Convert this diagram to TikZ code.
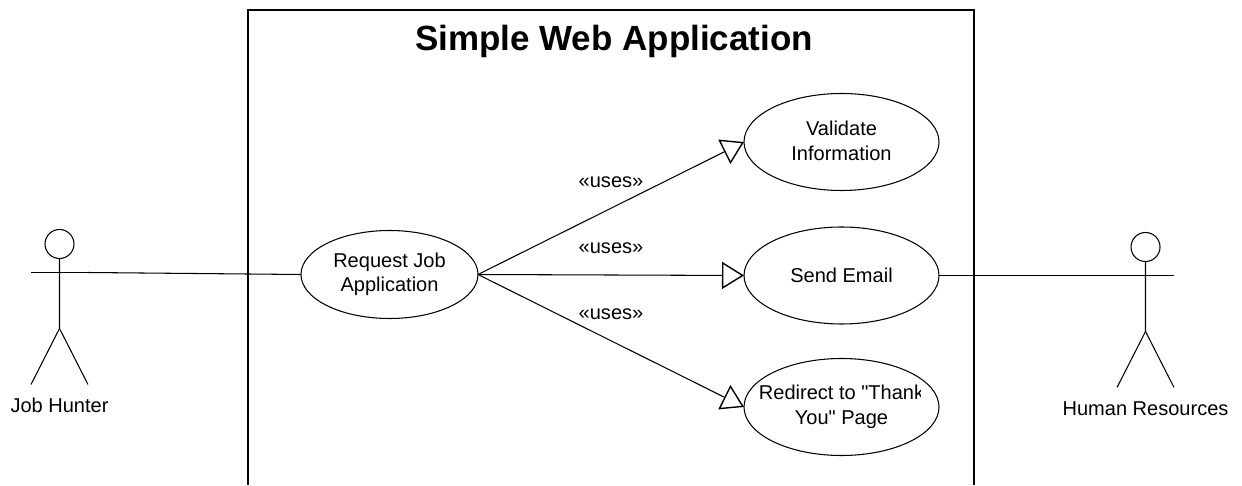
\documentclass[tikz,border=0pt]{standalone}
\usepackage{fontspec}
\setmainfont{Liberation Sans}[Ligatures=TeXOff]
\usetikzlibrary{arrows.meta, calc, shapes.geometric}
\tikzset{
	usecase/.style={ellipse, draw, inner sep=0pt, outer sep=0pt},
	smalltext/.style={font=\fontsize{5.7}{7}\selectfont, align=center, inner sep=0pt},
	uses/.style={-{Triangle[open, length=2.2mm, width=2.7mm, line width=0.4pt]}, shorten >=0pt}
}
\newcommand{\ActorFigure}[3]{
	\def\lname{#1}
	\def\lpin{#2}
	\node[circle, draw, inner sep=0pt, outer sep=0pt, minimum size=2.9mm] (\lname head) at ($ (\lpin)+(0,0.285) $) {};
	\coordinate (\lname left) at ($ (\lpin)+(-0.285,0) $);
	\coordinate (\lname right) at ($ (\lpin)+(0.285,0) $);
	\coordinate (\lname hip) at ($ (\lpin)+(0,-0.56) $);
	\coordinate (\lname lfoot) at ($ (\lpin)+(-0.285,-1.12) $);
	\coordinate (\lname rfoot) at ($ (\lpin)+(0.285,-1.12) $);
	\draw (\lname head) -- (\lname hip) -- (\lname lfoot);
	\draw (\lname hip) -- (\lname rfoot);
	\draw (\lname left) -- (\lname right);
	\node[smalltext] (\lname label) at ($ (\lpin)+(0,-1.33) $) {#3};
}

\begin{document}
\begin{tikzpicture}[line width=0.3pt]

	\useasboundingbox (0,0) rectangle (12.42,4.85);

	% system frame, open at the bottom
	\coordinate (FrameA) at (2.48,0);
	\coordinate (FrameB) at (2.48,4.75);
	\coordinate (FrameC) at (9.74,4.75);
	\coordinate (FrameD) at (9.74,0);
	\draw[line width=0.45pt] (FrameA) -- (FrameB) -- (FrameC) -- (FrameD);
	\node[font=\fontsize{9.95}{11}\selectfont\bfseries, inner sep=0pt] (title) at (6.14,4.44) {Simple Web Application};

	\ActorFigure{hunter}{0.595,2.125}{Job Hunter}
	\ActorFigure{hr}{11.455,2.095}{Human Resources}

	\node[usecase, minimum width=1.77cm, minimum height=0.88cm] (request) at (3.895,2.105) {};
	\node[usecase, minimum width=1.95cm, minimum height=0.97cm] (validate) at (8.415,3.43) {};
	\node[usecase, minimum width=1.95cm, minimum height=0.97cm] (send) at (8.415,2.095) {};
	\node[usecase, minimum width=1.95cm, minimum height=0.97cm] (redirect) at (8.415,0.78) {};

	\node[smalltext] (requesttext) at (request) {Request Job\\Application};
	\node[smalltext] (validatetext) at ($ (validate)+(0,0.01) $) {Validate\\Information};
	\node[smalltext] (sendtext) at (send) {Send Email};
	\begin{scope}
		\clip ($ (redirect)+(-0.9,-0.5) $) rectangle ($ (redirect)+(0.79,0.5) $);
		\node[smalltext] (redirecttext) at (redirect) {Redirect to "Thank\\You" Page};
	\end{scope}

	\draw (hunterright) -- (request.west);
	\draw (send.east) -- (hrleft);

	\draw[uses] (request.east) -- (validate.west);
	\draw[uses] (request.east) -- (send.west);
	\draw[uses] (request.east) -- (redirect.west);

	\node[smalltext] (usesa) at (6.11,3.03) {«uses»};
	\node[smalltext] (usesb) at (6.11,2.37) {«uses»};
	\node[smalltext] (usesc) at (6.11,1.71) {«uses»};

\end{tikzpicture}
\end{document}
